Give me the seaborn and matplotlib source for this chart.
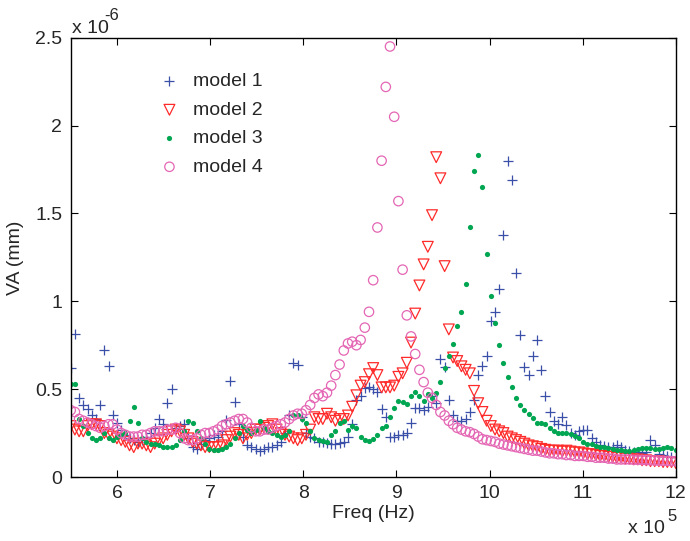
import numpy as np
import pandas as pd
import seaborn as sns
import matplotlib.pyplot as plt

# frequency grid (Hz), 145 samples between 5.5e5 and 12e5
freq = np.linspace(5.5e5, 12e5, 145)

# VA values in units of 1e-6 mm
model1 = [0.62, 0.815, 0.45, 0.41, 0.385, 0.35, 0.33, 0.41, 0.72, 0.63,
          0.35, 0.31, 0.27, 0.24, 0.22, 0.21, 0.20, 0.21, 0.23, 0.25,
          0.28, 0.33, 0.30, 0.42, 0.50, 0.28, 0.29, 0.30, 0.22, 0.17,
          0.16, 0.19, 0.21, 0.22, 0.24, 0.23, 0.26, 0.325, 0.545, 0.425,
          0.30, 0.23, 0.18, 0.17, 0.16, 0.15, 0.16, 0.17, 0.17, 0.18,
          0.20, 0.25, 0.35, 0.65, 0.64, 0.34, 0.25, 0.23, 0.22, 0.20,
          0.20, 0.195, 0.19, 0.19, 0.195, 0.20, 0.23, 0.30, 0.44, 0.46,
          0.505, 0.51, 0.50, 0.485, 0.385, 0.34, 0.23, 0.23, 0.24, 0.24,
          0.25, 0.31, 0.39, 0.39, 0.38, 0.40, 0.46, 0.42, 0.67, 0.625,
          0.44, 0.35, 0.32, 0.32, 0.33, 0.37, 0.44, 0.58, 0.63, 0.69,
          0.89, 0.94, 1.07, 1.38, 1.80, 1.69, 1.16, 0.81, 0.625, 0.58,
          0.69, 0.78, 0.61, 0.46, 0.37, 0.32, 0.30, 0.34, 0.295, 0.25,
          0.24, 0.26, 0.27, 0.27, 0.22, 0.20, 0.18, 0.175, 0.17, 0.17,
          0.18, 0.17, 0.155, 0.15, 0.145, 0.14, 0.135, 0.14, 0.21, 0.18,
          0.13, 0.125, 0.12, 0.115, 0.115]

model2 = [0.29, 0.27, 0.26, 0.26, 0.29, 0.30, 0.30, 0.29, 0.25, 0.24,
          0.23, 0.22, 0.21, 0.20, 0.18, 0.17, 0.19, 0.19, 0.18, 0.17,
          0.19, 0.21, 0.22, 0.24, 0.26, 0.27, 0.26, 0.24, 0.22, 0.20,
          0.19, 0.18, 0.17, 0.17, 0.17, 0.17, 0.18, 0.21, 0.23, 0.25,
          0.24, 0.22, 0.24, 0.25, 0.27, 0.27, 0.28, 0.29, 0.30, 0.27,
          0.25, 0.24, 0.23, 0.22, 0.21, 0.22, 0.24, 0.27, 0.34, 0.33,
          0.33, 0.36, 0.34, 0.32, 0.33, 0.33, 0.35, 0.40, 0.465, 0.52,
          0.54, 0.585, 0.62, 0.58, 0.51, 0.51, 0.51, 0.52, 0.57, 0.59,
          0.65, 0.765, 0.93, 1.09, 1.21, 1.31, 1.49, 1.82, 1.70, 1.20,
          0.84, 0.68, 0.66, 0.63, 0.61, 0.59, 0.49, 0.42, 0.37, 0.32,
          0.29, 0.27, 0.26, 0.25, 0.23, 0.22, 0.21, 0.20, 0.19, 0.18,
          0.175, 0.17, 0.16, 0.155, 0.15, 0.15, 0.15, 0.145, 0.15, 0.145,
          0.14, 0.14, 0.135, 0.13, 0.13, 0.125, 0.12, 0.12, 0.115, 0.115,
          0.11, 0.11, 0.105, 0.105, 0.10, 0.10, 0.095, 0.095, 0.09, 0.09,
          0.09, 0.085, 0.085, 0.085, 0.08]

model3 = [0.53, 0.53, 0.33, 0.29, 0.25, 0.22, 0.21, 0.22, 0.25, 0.22,
          0.21, 0.23, 0.24, 0.25, 0.32, 0.40, 0.31, 0.22, 0.20, 0.19,
          0.19, 0.18, 0.17, 0.17, 0.17, 0.18, 0.21, 0.26, 0.32, 0.31,
          0.26, 0.22, 0.19, 0.16, 0.155, 0.155, 0.16, 0.17, 0.19, 0.22,
          0.25, 0.29, 0.27, 0.25, 0.27, 0.32, 0.28, 0.26, 0.25, 0.24,
          0.23, 0.24, 0.26, 0.35, 0.35, 0.33, 0.31, 0.26, 0.22, 0.21,
          0.205, 0.20, 0.24, 0.26, 0.305, 0.32, 0.27, 0.29, 0.28, 0.23,
          0.21, 0.205, 0.215, 0.24, 0.28, 0.29, 0.34, 0.39, 0.43, 0.425,
          0.415, 0.46, 0.485, 0.46, 0.43, 0.47, 0.45, 0.48, 0.54, 0.62,
          0.69, 0.755, 0.86, 0.94, 1.10, 1.425, 1.74, 1.83, 1.65, 1.27,
          1.03, 0.875, 0.75, 0.65, 0.57, 0.51, 0.45, 0.41, 0.38, 0.36,
          0.335, 0.31, 0.31, 0.30, 0.28, 0.26, 0.25, 0.25, 0.25, 0.245,
          0.235, 0.22, 0.20, 0.19, 0.185, 0.175, 0.17, 0.17, 0.165, 0.16,
          0.155, 0.155, 0.15, 0.15, 0.155, 0.16, 0.165, 0.165, 0.165, 0.16,
          0.16, 0.165, 0.17, 0.165, 0.155]

model4 = [0.38, 0.37, 0.33, 0.32, 0.31, 0.30, 0.29, 0.28, 0.29, 0.30,
          0.30, 0.27, 0.25, 0.24, 0.23, 0.23, 0.23, 0.24, 0.24, 0.25,
          0.26, 0.26, 0.26, 0.27, 0.27, 0.28, 0.25, 0.22, 0.21, 0.21,
          0.22, 0.24, 0.25, 0.25, 0.26, 0.27, 0.29, 0.30, 0.31, 0.32,
          0.33, 0.33, 0.31, 0.28, 0.26, 0.26, 0.27, 0.27, 0.28, 0.29,
          0.30, 0.31, 0.33, 0.35, 0.36, 0.36, 0.38, 0.41, 0.45, 0.47,
          0.46, 0.48, 0.52, 0.58, 0.64, 0.72, 0.76, 0.77, 0.75, 0.78,
          0.85, 0.94, 1.12, 1.42, 1.80, 2.22, 2.45, 2.05, 1.57, 1.18,
          0.92, 0.80, 0.70, 0.61, 0.54, 0.48, 0.45, 0.41, 0.37, 0.35,
          0.32, 0.30, 0.28, 0.27, 0.26, 0.255, 0.245, 0.23, 0.215, 0.21,
          0.205, 0.20, 0.19, 0.185, 0.18, 0.175, 0.17, 0.165, 0.16, 0.155,
          0.15, 0.15, 0.145, 0.14, 0.135, 0.135, 0.13, 0.13, 0.125, 0.125,
          0.12, 0.12, 0.12, 0.115, 0.115, 0.11, 0.11, 0.11, 0.105, 0.105,
          0.10, 0.10, 0.10, 0.10, 0.098, 0.098, 0.097, 0.096, 0.095, 0.094,
          0.093, 0.092, 0.092, 0.09, 0.09]

labels = ["model 1", "model 2", "model 3", "model 4"]
yticks = [0, 0.5, 1, 1.5, 2, 2.5]
ytick_labels = ["0", "0.5", "1", "1.5", "2", "2.5"]
xticks = [6, 7, 8, 9, 10, 11, 12]

sns.set_style("ticks")
plt.rcParams['font.family'] = ['Liberation Sans', 'DejaVu Sans']
plt.rcParams['xtick.direction'] = 'in'
plt.rcParams['ytick.direction'] = 'in'

fig = plt.figure(figsize=(6.9, 5.41), dpi=100)
ax = fig.add_axes([70.7 / 690, 64 / 541, 605 / 690, 439.3 / 541])

# model 1: blue plus
sns.scatterplot(x=freq, y=np.array(model1) * 1e-6, marker='+', s=60,
                color='#3a4fa8', linewidth=0.9, label=labels[0], ax=ax)
# model 2: red open triangles
sns.scatterplot(x=freq, y=np.array(model2) * 1e-6, marker='v', s=60,
                facecolor='none', edgecolor='#ff2a2a', linewidth=0.9,
                label=labels[1], ax=ax)
# model 3: green dots
sns.scatterplot(x=freq, y=np.array(model3) * 1e-6, marker='o', s=14,
                color='#00a651', edgecolor='#00a651', linewidth=0,
                label=labels[2], ax=ax)
# model 4: pink open circles
sns.scatterplot(x=freq, y=np.array(model4) * 1e-6, marker='o', s=46,
                facecolor='none', edgecolor='#e466b4', linewidth=0.9,
                label=labels[3], ax=ax)

ax.set_xlim(5.5e5, 12e5)
ax.set_ylim(0, 2.5e-6)
ax.set_xticks([t * 1e5 for t in xticks])
ax.set_xticklabels([str(t) for t in xticks])
ax.set_yticks([t * 1e-6 for t in yticks])
ax.set_yticklabels(ytick_labels)
ax.tick_params(labelsize=14, length=5, width=0.8, top=True, right=True,
               color='black', pad=6)
for sp in ax.spines.values():
    sp.set_visible(True)
    sp.set_color('black')
    sp.set_linewidth(1.0)

ax.set_xlabel("Freq (Hz)", fontsize=14, labelpad=2)
ax.set_ylabel("VA (mm)", fontsize=14, labelpad=8)

# exponent notes (MATLAB style)
fig.text(72 / 690, 1 - 33 / 541, "x 10", fontsize=14, ha='left', va='baseline')
fig.text(104 / 690, 1 - 20 / 541, "-6", fontsize=12, ha='left', va='baseline')
fig.text(628 / 690, 1 - 533 / 541, "x 10", fontsize=14, ha='left', va='baseline')
fig.text(667 / 690, 1 - 521 / 541, "5", fontsize=12, ha='left', va='baseline')

leg = ax.legend(loc='upper left', bbox_to_anchor=(0.115, 0.96), frameon=False,
                fontsize=14, scatterpoints=1, handletextpad=0.6,
                labelspacing=0.56, handlelength=1.2)

fig.savefig("out.png", dpi=100)
